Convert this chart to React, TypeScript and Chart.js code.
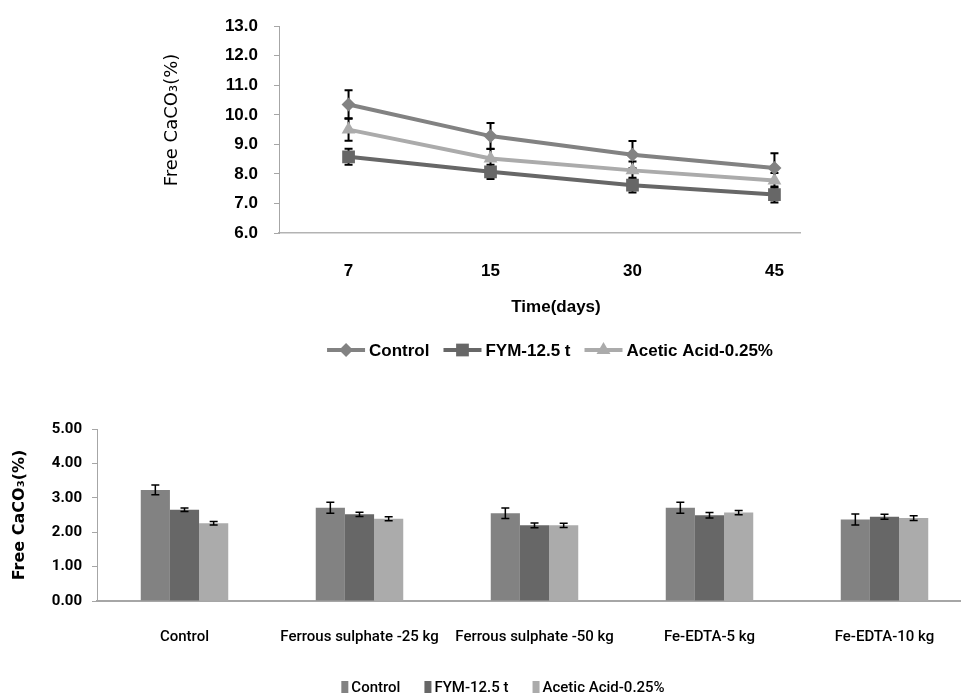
import React, { useEffect, useRef } from 'react';
import { Chart, registerables } from 'chart.js';

Chart.register(...registerables);

// ---------- Data: line chart (Free CaCO3 over time) ----------
const timeLabels = ['7', '15', '30', '45'];
const lineControl = [10.35, 9.28, 8.65, 8.2];
const lineControlErr = [0.48, 0.44, 0.46, 0.5];
const lineFym = [8.58, 8.07, 7.62, 7.3];
const lineFymErr = [0.27, 0.24, 0.25, 0.27];
const lineAcetic = [9.5, 8.52, 8.12, 7.78];
const lineAceticErr = [0.38, 0.33, 0.3, 0.25];
const lineYTicks = [6, 7, 8, 9, 10, 11, 12, 13];
const lineXTitle = 'Time(days)';

// ---------- Data: bar chart (Free CaCO3 by treatment) ----------
const treatments = ['Control', 'Ferrous sulphate -25 kg', 'Ferrous sulphate -50 kg', 'Fe-EDTA-5 kg', 'Fe-EDTA-10 kg'];
const barControl = [3.23, 2.71, 2.55, 2.71, 2.37];
const barControlErr = [0.14, 0.16, 0.15, 0.16, 0.16];
const barFym = [2.65, 2.52, 2.2, 2.49, 2.45];
const barFymErr = [0.05, 0.06, 0.07, 0.08, 0.07];
const barAcetic = [2.26, 2.39, 2.2, 2.57, 2.41];
const barAceticErr = [0.05, 0.06, 0.06, 0.06, 0.07];
const barYTicks = [0, 1, 2, 3, 4, 5];

const seriesNames = ['Control', 'FYM-12.5 t', 'Acetic Acid-0.25%'];
const yTitle = 'Free CaCO₃(%)';

const C_CONTROL = '#828282';
const C_FYM = '#676767';
const C_ACETIC = '#ababab';

const SANS = "'Liberation Sans', Arial, sans-serif";
const COND = "Roboto, 'Liberation Sans', sans-serif";
const DEJAVU = "'DejaVu Sans', Verdana, sans-serif";

function drawMarker(ctx: CanvasRenderingContext2D, style: string, x: number, y: number, r: number) {
  ctx.beginPath();
  if (style === 'rectRot') {
    ctx.moveTo(x, y - r);
    ctx.lineTo(x + r, y);
    ctx.lineTo(x, y + r);
    ctx.lineTo(x - r, y);
  } else if (style === 'rect') {
    const s = r * Math.SQRT1_2;
    ctx.rect(x - s, y - s, 2 * s, 2 * s);
  } else if (style === 'triangle') {
    const h = r * 1.5;
    ctx.moveTo(x, y - r);
    ctx.lineTo(x + h * 0.58, y + r * 0.5);
    ctx.lineTo(x - h * 0.58, y + r * 0.5);
  }
  ctx.closePath();
  ctx.fill();
}

const errorBarsPlugin = {
  id: 'errorBars',
  draw(chart: any, opts: any) {
    const ctx = chart.ctx as CanvasRenderingContext2D;
    const yScale = chart.scales.y;
    chart.data.datasets.forEach((ds: any, di: number) => {
      const errs: number[] | undefined = ds.errors;
      if (!errs) return;
      const meta = chart.getDatasetMeta(di);
      meta.data.forEach((el: any, i: number) => {
        const raw = ds.data[i];
        const v = typeof raw === 'number' ? raw : raw.y;
        const x = el.x;
        const yt = yScale.getPixelForValue(v + errs[i]);
        const yb = yScale.getPixelForValue(v - errs[i]);
        ctx.save();
        ctx.strokeStyle = '#000';
        ctx.lineWidth = opts.lineWidth || 1.5;
        ctx.beginPath();
        ctx.moveTo(x, yt);
        ctx.lineTo(x, yb);
        ctx.moveTo(x - opts.cap, yt);
        ctx.lineTo(x + opts.cap, yt);
        ctx.moveTo(x - opts.cap, yb);
        ctx.lineTo(x + opts.cap, yb);
        ctx.stroke();
        ctx.restore();
      });
    });
  },
  beforeDatasetsDraw(chart: any, _a: any, opts: any) {
    if (opts.before) (errorBarsPlugin as any).draw(chart, opts);
  },
  afterDatasetsDraw(chart: any, _a: any, opts: any) {
    if (!opts.before) (errorBarsPlugin as any).draw(chart, opts);
  },
};

const customLegendPlugin = {
  id: 'customLegend',
  afterDraw(chart: any, _a: any, opts: any) {
    const ctx = chart.ctx as CanvasRenderingContext2D;
    ctx.save();
    ctx.fillStyle = '#000';
    ctx.textAlign = 'center';
    ctx.textBaseline = 'middle';
    if (opts.xTitle) {
      ctx.font = opts.xTitleFont;
      ctx.fillText(opts.xTitle, opts.xTitleX, opts.xTitleY);
    }
    if (opts.yTitle) {
      ctx.save();
      ctx.font = opts.yTitleFont;
      ctx.translate(opts.yTitleX, opts.yTitleY);
      ctx.rotate(-Math.PI / 2);
      ctx.fillText(opts.yTitle, 0, 0);
      ctx.restore();
    }
    ctx.font = opts.font;
    ctx.textBaseline = 'middle';
    ctx.textAlign = 'left';
    const items = chart.data.datasets.map((ds: any) => ({ ds, text: ds.label, w: ctx.measureText(ds.label).width }));
    const total =
      items.reduce((s: number, it: any) => s + opts.symbolWidth + opts.gap + it.w, 0) +
      opts.spacing * (items.length - 1);
    let x = opts.centerX - total / 2;
    const y = opts.y;
    items.forEach((it: any) => {
      const ds = it.ds;
      if (opts.kind === 'line') {
        ctx.strokeStyle = ds.borderColor;
        ctx.lineWidth = ds.borderWidth;
        ctx.beginPath();
        ctx.moveTo(x, y);
        ctx.lineTo(x + opts.symbolWidth, y);
        ctx.stroke();
        ctx.fillStyle = ds.pointBackgroundColor;
        drawMarker(ctx, ds.pointStyle, x + opts.symbolWidth / 2, y, ds.pointRadius);
      } else {
        ctx.fillStyle = ds.backgroundColor;
        ctx.fillRect(x, y - opts.boxHeight / 2, opts.symbolWidth, opts.boxHeight);
      }
      ctx.fillStyle = '#000';
      ctx.fillText(it.text, x + opts.symbolWidth + opts.gap, y + 1);
      x += opts.symbolWidth + opts.gap + it.w + opts.spacing;
    });
    ctx.restore();
  },
};

function LineChart() {
  const ref = useRef<HTMLCanvasElement | null>(null);
  useEffect(() => {
    if (!ref.current) return;
    const mk = (label: string, vals: number[], errs: number[], color: string, style: string, r: number) => ({
      label,
      data: vals.map((v, i) => ({ x: i, y: v })),
      errors: errs,
      borderColor: color,
      backgroundColor: color,
      pointBackgroundColor: color,
      pointBorderColor: color,
      pointBorderWidth: 0,
      pointStyle: style,
      pointRadius: r,
      borderWidth: 4,
      tension: 0,
    });
    const chart = new Chart(ref.current, {
      type: 'line',
      data: {
        datasets: [
          mk(seriesNames[0], lineControl, lineControlErr, C_CONTROL, 'rectRot', 7),
          mk(seriesNames[1], lineFym, lineFymErr, C_FYM, 'rect', 9),
          mk(seriesNames[2], lineAcetic, lineAceticErr, C_ACETIC, 'triangle', 8),
        ] as any,
      },
      options: {
        animation: false,
        responsive: false,
        devicePixelRatio: 1,
        layout: { padding: { left: 140, right: 161, top: 20, bottom: 0 } },
        plugins: {
          legend: { display: false },
          tooltip: { enabled: false },
          errorBars: { cap: 4, lineWidth: 2, before: true },
          customLegend: {
            kind: 'line',
            font: `bold 17px ${SANS}`,
            symbolWidth: 38,
            gap: 4,
            spacing: 14,
            centerX: 550,
            y: 350,
            xTitle: lineXTitle,
            xTitleFont: `bold 17px ${SANS}`,
            xTitleX: 556,
            xTitleY: 307,
            yTitle: yTitle,
            yTitleFont: `18px ${DEJAVU}`,
            yTitleX: 172,
            yTitleY: 120,
          },
        } as any,
        scales: {
          x: {
            type: 'linear',
            min: -0.49,
            max: 3.18,
            afterBuildTicks: (s: any) => {
              s.ticks = timeLabels.map((_, i) => ({ value: i }));
            },
            afterFit: (s: any) => {
              s.height = 390 - 233;
            },
            grid: { display: false, drawTicks: false },
            border: { display: true, color: '#b3b3b3', width: 1.5 },
            ticks: {
              autoSkip: false,
              maxRotation: 0,
              padding: 28,
              color: '#000',
              font: { family: SANS, size: 17, weight: 'bold' },
              callback: (v: any) => timeLabels[v] ?? '',
            },
          },
          y: {
            min: 6,
            max: 13,
            afterBuildTicks: (s: any) => {
              s.ticks = lineYTicks.map((v) => ({ value: v }));
            },
            afterFit: (s: any) => {
              s.width = 139;
            },
            grid: { drawOnChartArea: false, drawTicks: true, tickLength: 5, color: '#a6a6a6' },
            border: { display: true, color: '#a6a6a6', width: 1 },
            ticks: {
              padding: 16,
              color: '#000',
              font: { family: SANS, size: 17, weight: 'bold' },
              callback: (v: any) => Number(v).toFixed(1),
            },
          },
        },
      } as any,
      plugins: [errorBarsPlugin as any, customLegendPlugin as any],
    });
    return () => chart.destroy();
  }, []);
  return <canvas ref={ref} width={961} height={390} style={{ position: 'absolute', left: 0, top: 0 }} />;
}

function BarChart() {
  const ref = useRef<HTMLCanvasElement | null>(null);
  useEffect(() => {
    if (!ref.current) return;
    const mk = (label: string, vals: number[], errs: number[], color: string) => ({
      label,
      data: vals,
      errors: errs,
      backgroundColor: color,
      borderWidth: 0,
      categoryPercentage: 0.5,
      barPercentage: 1.0,
    });
    const chart = new Chart(ref.current, {
      type: 'bar',
      data: {
        labels: treatments,
        datasets: [
          mk(seriesNames[0], barControl, barControlErr, C_CONTROL),
          mk(seriesNames[1], barFym, barFymErr, C_FYM),
          mk(seriesNames[2], barAcetic, barAceticErr, C_ACETIC),
        ] as any,
      },
      options: {
        animation: false,
        responsive: false,
        devicePixelRatio: 1,
        layout: { padding: { left: 0, right: 3, top: 17, bottom: 0 } },
        plugins: {
          legend: { display: false },
          tooltip: { enabled: false },
          errorBars: { cap: 4, lineWidth: 1.5, before: false },
          customLegend: {
            kind: 'box',
            font: `500 15px ${COND}`,
            symbolWidth: 7,
            boxHeight: 12,
            gap: 3,
            spacing: 24,
            centerX: 503,
            y: 277,
          },
        } as any,
        scales: {
          x: {
            afterFit: (s: any) => {
              s.height = 287 - 191;
            },
            grid: { display: false, drawTicks: false },
            border: { display: true, color: '#a6a6a6', width: 2 },
            ticks: {
              autoSkip: false,
              maxRotation: 0,
              padding: 27,
              color: '#000',
              font: { family: COND, size: 15, weight: '500' },
            },
          },
          y: {
            min: 0,
            max: 5,
            afterBuildTicks: (s: any) => {
              s.ticks = barYTicks.map((v) => ({ value: v }));
            },
            afterFit: (s: any) => {
              s.width = 97;
            },
            grid: { drawOnChartArea: false, drawTicks: true, tickLength: 5, color: '#a6a6a6' },
            border: { display: true, color: '#a6a6a6', width: 1 },
            ticks: {
              padding: 10,
              color: '#000',
              font: { family: COND, size: 15, weight: 'bold' },
              callback: (v: any) => Number(v).toFixed(2),
            },
            title: {
              display: true,
              text: yTitle,
              color: '#000',
              font: { family: DEJAVU, size: 16, weight: 'bold' },
              padding: { top: 10, bottom: 0 },
            },
          },
        },
      } as any,
      plugins: [errorBarsPlugin as any, customLegendPlugin as any],
    });
    return () => chart.destroy();
  }, []);
  return <canvas ref={ref} width={975} height={287} style={{ position: 'absolute', left: 0, top: 410 }} />;
}

export default function App() {
  return (
    <div
      style={{
        position: 'fixed',
        left: 0,
        top: 0,
        width: 961,
        height: 697,
        overflow: 'hidden',
        background: '#ffffff',
      }}
    >
      <LineChart />
      <BarChart />
    </div>
  );
}
